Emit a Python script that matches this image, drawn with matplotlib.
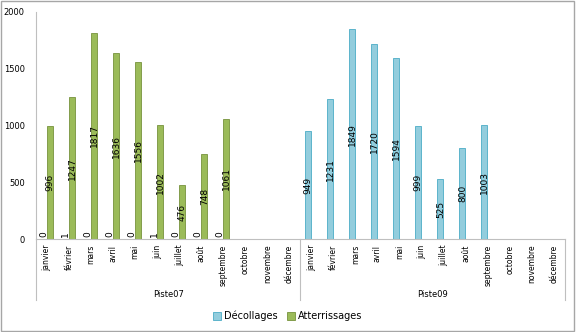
import matplotlib.pyplot as plt
import matplotlib.transforms as mtransforms
from matplotlib.patches import Rectangle
import numpy as np

mois = ["janvier", "février", "mars", "avril", "mai", "juin", "juillet",
        "août", "septembre", "octobre", "novembre", "décembre"]
pistes = ["Piste07", "Piste09"]

# Piste07 puis Piste09, None = pas de donnée
decollages = [0, 1, 0, 0, 0, 1, 0, 0, 0, None, None, None,
              949, 1231, 1849, 1720, 1594, 999, 525, 800, 1003, None, None, None]
atterrissages = [996, 1247, 1817, 1636, 1556, 1002, 476, 748, 1061, None, None, None,
                 None, None, None, None, None, None, None, None, None, None, None, None]

fig = plt.figure(figsize=(5.76, 3.32), dpi=100)
ax = fig.add_axes([0.0625, 0.28, 0.918, 0.684])

x = np.arange(len(mois) * len(pistes))
w = 0.27
bleu, bleu_bord = "#93CDDD", "#4BACC6"
vert, vert_bord = "#9BBB59", "#77933C"


def barres(valeurs, dx, couleur, bord):
    for xi, v in zip(x, valeurs):
        if v is None:
            continue
        ax.bar(xi + dx, v, w, color=couleur, edgecolor=bord, linewidth=0.6)
        if v > 50:
            ax.text(xi + dx, v / 2, str(v), rotation=90, ha="center", va="center",
                    fontsize=6.5)
        else:
            ax.text(xi + dx, 22, str(v), rotation=90, ha="center", va="bottom",
                    fontsize=6.5)


barres(decollages, -w / 2 - 0.01, bleu, bleu_bord)
barres(atterrissages, w / 2 + 0.01, vert, vert_bord)

ax.set_xlim(-0.5, len(x) - 0.5)
ax.set_ylim(0, 2000)
ax.set_yticks([0, 500, 1000, 1500, 2000])
ax.tick_params(axis="y", length=0, labelsize=6, pad=8)
ax.set_xticks(x)
ax.set_xticklabels(mois * 2, rotation=90, fontsize=5.5, va="top")
ax.tick_params(axis="x", length=0, pad=4)
for s in ["top", "right"]:
    ax.spines[s].set_visible(False)
ax.spines["left"].set_color("#BFBFBF")
ax.spines["bottom"].set_color("#BFBFBF")

# axe des catégories à deux niveaux
tr = mtransforms.blended_transform_factory(ax.transData, ax.transAxes)
for xb in [-0.5, 11.5, 23.5]:
    ax.plot([xb, xb], [0, -0.27], transform=tr, color="#BFBFBF", lw=0.8, clip_on=False)
for i, p in enumerate(pistes):
    ax.text(i * 12 + 5.5, -0.245, p, transform=tr, ha="center", va="center", fontsize=6)

h1 = Rectangle((0, 0), 1, 1, facecolor=bleu, edgecolor=bleu_bord, lw=0.6)
h2 = Rectangle((0, 0), 1, 1, facecolor=vert, edgecolor=vert_bord, lw=0.6)
fig.legend([h1, h2], ["Décollages", "Atterrissages"], loc="center",
           bbox_to_anchor=(0.5, 0.048), ncol=2, frameon=False, fontsize=7,
           handlelength=0.8, handleheight=0.8, handletextpad=0.3, columnspacing=1.0)

fig.patches.append(Rectangle((0.002, 0.003), 0.995, 0.994, transform=fig.transFigure,
                             fill=False, edgecolor="#A6A6A6", lw=1))

fig.savefig("out.png", dpi=100)
